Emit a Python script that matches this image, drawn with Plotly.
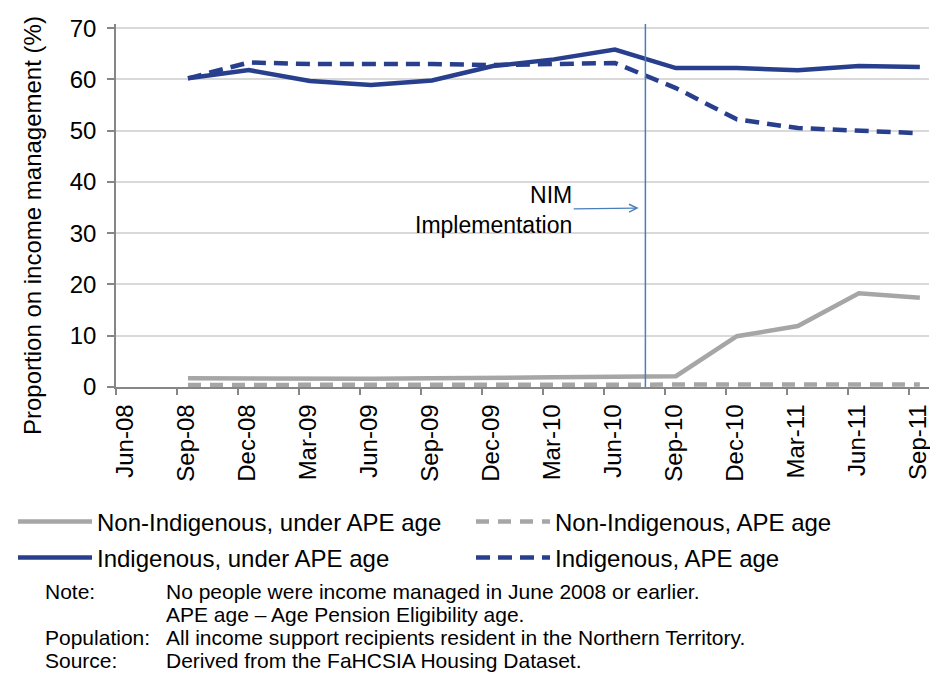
import plotly.graph_objects as go

# quarter labels on the x axis (Jun-08 .. Sep-11)
quarters = ["Jun-08", "Sep-08", "Dec-08", "Mar-09", "Jun-09", "Sep-09", "Dec-09",
            "Mar-10", "Jun-10", "Sep-10", "Dec-10", "Mar-11", "Jun-11", "Sep-11"]

# series start at Sep-08 (nobody income managed in June 2008)
nonind_under = [None, 1.7, 1.6, 1.5, 1.6, 1.7, 1.9, 1.9, 2.0, 2.1, 9.9, 11.9, 18.3, 17.4]
nonind_ape = [None, 0.4, 0.4, 0.4, 0.4, 0.4, 0.4, 0.4, 0.4, 0.4, 0.4, 0.5, 0.5, 0.5]
ind_under = [None, 60.2, 61.8, 59.7, 58.9, 59.8, 62.6, 63.9, 65.8, 62.2, 62.2, 61.8, 62.6, 62.4]
ind_ape = [None, 60.2, 63.3, 63.0, 63.1, 63.0, 62.8, 63.0, 63.2, 58.3, 52.2, 50.5, 49.9, 49.5]

# NIM implementation sits between Jun-10 and Sep-10
nim_pos = 8.5

GREY = "#A6A6A6"
NAVY = "#283F8E"
FONT = "Liberation Sans, Arial, sans-serif"

x = list(range(len(quarters)))
y_top = 70.8

# plot area in pixels (left, right, top, bottom) -> used for paper coords
PL, PR, PT, PB = 116, 929, 24, 387
W, H = 930, 673


def px_x(p):
    return (p - PL) / float(PR - PL)


def px_y(p):
    return (PB - p) / float(PB - PT)


fig = go.Figure()

fig.add_trace(go.Scatter(x=x, y=nonind_under, mode="lines", name="Non-Indigenous, under APE age",
                         line=dict(color=GREY, width=4.5), legend="legend"))
fig.add_trace(go.Scatter(x=x, y=nonind_ape, mode="lines", name="Non-Indigenous, APE age",
                         line=dict(color=GREY, width=4.5, dash="13px,9px"), legend="legend2"))
fig.add_trace(go.Scatter(x=x, y=ind_under, mode="lines", name="Indigenous, under APE age",
                         line=dict(color=NAVY, width=4.5), legend="legend3"))
fig.add_trace(go.Scatter(x=x, y=ind_ape, mode="lines", name="Indigenous, APE age",
                         line=dict(color=NAVY, width=4.5, dash="14px,8px"), legend="legend4"))

# implementation marker
fig.add_trace(go.Scatter(x=[nim_pos, nim_pos], y=[0, y_top], mode="lines",
                         line=dict(color="#4A7EBB", width=1.5), showlegend=False, hoverinfo="skip"))

fig.add_annotation(x=nim_pos - 0.11, y=34.9, xref="x", yref="y",
                   text="NIM<br>Implementation", align="right",
                   showarrow=True, arrowhead=5, arrowsize=1.3, arrowwidth=1.2,
                   arrowcolor="#4A7EBB", ax=-145, ay=2,
                   font=dict(family=FONT, size=23, color="#000000"))

# y-axis title (sits a little below the plot centre in the original)
fig.add_annotation(x=px_x(32), y=px_y(226), xref="paper", yref="paper",
                   text="Proportion on income management (%)", textangle=-90,
                   showarrow=False, xanchor="center", yanchor="middle",
                   font=dict(family=FONT, size=24, color="#000000"))

# notes below the chart
notes = [("Note:", "No people were income managed in June 2008 or earlier."),
         ("", "APE age \u2013 Age Pension Eligibility age."),
         ("Population:", "All income support recipients resident in the Northern Territory."),
         ("Source:", "Derived from the FaHCSIA Housing Dataset.")]
for i, (lab, txt) in enumerate(notes):
    yy = px_y(591 + i * 23)
    if lab:
        fig.add_annotation(x=px_x(43), y=yy, xref="paper", yref="paper", text=lab,
                           showarrow=False, xanchor="left", yanchor="middle",
                           font=dict(family=FONT, size=21, color="#000000"))
    fig.add_annotation(x=px_x(164), y=yy, xref="paper", yref="paper", text=txt,
                       showarrow=False, xanchor="left", yanchor="middle",
                       font=dict(family=FONT, size=21, color="#000000"))

legend_common = dict(xref="container", yref="container",
                     xanchor="left", yanchor="middle", itemwidth=74,
                     bgcolor="rgba(0,0,0,0)", font=dict(family=FONT, size=24, color="#000000"),
                     itemclick=False, itemdoubleclick=False)
col1, col2 = 13, 471
row1, row2 = 522, 558

fig.update_layout(
    width=W, height=H,
    margin=dict(l=PL, r=W - PR, t=PT, b=H - PB, autoexpand=False),
    plot_bgcolor="white", paper_bgcolor="white",
    font=dict(family=FONT, size=24, color="#000000"),
    legend=dict(x=col1 / W, y=1 - row1 / H, **legend_common),
    legend2=dict(x=col2 / W, y=1 - row1 / H, **legend_common),
    legend3=dict(x=col1 / W, y=1 - row2 / H, **legend_common),
    legend4=dict(x=col2 / W, y=1 - row2 / H, **legend_common),
)

fig.update_xaxes(
    range=[-0.18, 13.15], automargin=False,
    tickmode="array", tickvals=[i - 0.18 for i in x], ticktext=quarters,
    tickangle=-90, ticklabelshift=9, ticklabeloverflow="allow",
    ticks="outside", ticklen=6, tickcolor="#868686", tickwidth=1.5,
    showline=True, linecolor="#868686", linewidth=1.5,
    showgrid=False, zeroline=False,
    tickfont=dict(family=FONT, size=24, color="#000000"),
)
fig.update_yaxes(
    range=[0, y_top], automargin=False, tickvals=[0, 10, 20, 30, 40, 50, 60, 70],
    ticks="outside", ticklen=7, tickcolor="#868686", tickwidth=1.5,
    showline=True, linecolor="#868686", linewidth=1.5,
    showgrid=True, gridcolor="#D9D9D9", gridwidth=1.5, zeroline=False,
    ticklabelstandoff=6,
    tickfont=dict(family=FONT, size=24, color="#000000"),
)

# page body has a default 8px margin; remove it so the figure fills the window
fig.write_html("out.html", config={"displayModeBar": False},
               post_script="document.body.style.margin='0';")
